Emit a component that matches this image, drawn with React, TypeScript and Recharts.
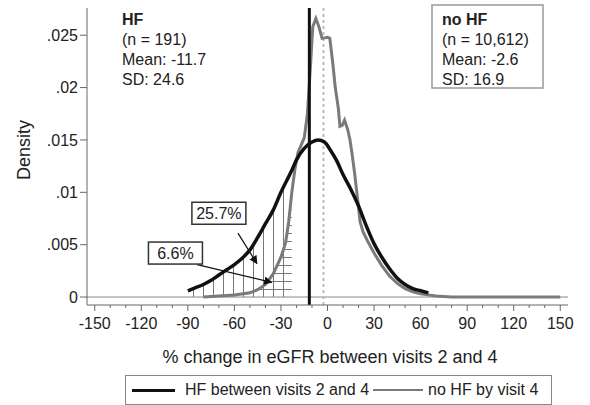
import {
  ComposedChart,
  Line,
  Area,
  XAxis,
  YAxis,
  ReferenceLine,
  ReferenceDot,
  Legend,
} from "recharts";

const FONT = '"Liberation Sans", Arial, sans-serif';

// HF between visits 2 and 4 (kernel density)
const hfX = [-90, -85, -80, -75, -70, -65, -60, -55, -50, -45, -40, -35, -30, -25, -23, -20, -15, -10, -6, -2, 2, 6, 10, 15, 20, 25, 30, 35, 40, 45, 50, 55, 60, 65];
const hfDensity = [0.0006, 0.0009, 0.0012, 0.0016, 0.0021, 0.0026, 0.0031, 0.0037, 0.0045, 0.0057, 0.007, 0.0083, 0.01, 0.0115, 0.0121, 0.0131, 0.0142, 0.0148, 0.015, 0.0148, 0.014, 0.013, 0.0117, 0.0103, 0.0087, 0.0068, 0.0051, 0.0038, 0.0027, 0.0018, 0.0012, 0.0008, 0.0006, 0.0004];

// no HF by visit 4
const noHfX = [-80, -60, -50, -45, -40, -35, -30, -27, -25, -23, -21, -19, -17, -15, -13, -11, -9.5, -7.5, -5.5, -3.5, 0, 1.5, 3.5, 5, 7, 8, 9.5, 11, 13, 14.5, 16, 17.5, 19.5, 21, 23, 26, 30, 35, 40, 45, 50, 55, 60, 70, 80, 150];
const noHfDensity = [0, 0.0002, 0.0004, 0.0007, 0.0012, 0.0022, 0.0038, 0.0052, 0.0072, 0.01, 0.0122, 0.0138, 0.0145, 0.0152, 0.0174, 0.022, 0.0258, 0.0266, 0.0258, 0.0247, 0.0248, 0.0247, 0.0222, 0.02, 0.018, 0.0163, 0.0164, 0.0169, 0.016, 0.015, 0.0135, 0.0118, 0.0092, 0.0072, 0.0062, 0.0053, 0.0042, 0.003, 0.002, 0.0013, 0.0008, 0.0005, 0.0003, 0.0001, 0, 0];

const xTicks = [-150, -140, -130, -120, -110, -100, -90, -80, -70, -60, -50, -40, -30, -20, -10, 0, 10, 20, 30, 40, 50, 60, 70, 80, 90, 100, 110, 120, 130, 140, 150];
const yTicks = [0, 0.005, 0.01, 0.015, 0.02, 0.025];

const hfMean = -11.7;
const noHfMean = -2.6;
const cutoff = -23;

const hfStats = ["HF", "(n = 191)", "Mean: -11.7", "SD: 24.6"];
const noHfStats = ["no HF", "(n = 10,612)", "Mean: -2.6", "SD: 16.9"];

const shareLabels = [
  { text: "25.7%", x: -70, y: 0.008, from: { x: -57.7, y: 0.0061 }, to: { x: -45.5, y: 0.0032 } },
  { text: "6.6%", x: -98, y: 0.0042, from: { x: -84, y: 0.0031 }, to: { x: -36, y: 0.0014 } },
];

const hfData = hfX.map((x, i) => ({ x, hf: hfDensity[i] }));
const noHfData = noHfX.map((x, i) => ({ x, nohf: noHfDensity[i] }));
const hfTail = hfData.filter((d) => d.x <= cutoff);
const noHfTail = noHfData.filter((d) => d.x <= cutoff);

const fmtY = (v: number) => (v === 0 ? "0" : String(v).replace("0.", "."));

function XTick(props: any) {
  const { x, y, payload } = props;
  const major = payload.value % 30 === 0;
  return (
    <g>
      <line x1={x} x2={x} y1={y} y2={y + (major ? 6 : 3)} stroke="#666" />
      {major && (
        <text x={x} y={y + 24} textAnchor="middle" fontSize={16} fontFamily={FONT} fill="#222">
          {payload.value}
        </text>
      )}
    </g>
  );
}

function LegendBox(props: any) {
  const items = (props.payload || []).filter((p: any) => p.type !== "none");
  return (
    <div
      style={{
        border: "1px solid #888",
        height: 30,
        boxSizing: "border-box",
        display: "flex",
        alignItems: "center",
        padding: "0 6px",
        fontFamily: FONT,
        fontSize: 16,
        color: "#222",
        whiteSpace: "nowrap",
      }}
    >
      {items.map((p: any, i: number) => (
        <span key={i} style={{ display: "flex", alignItems: "center" }}>
          <span
            style={{
              display: "inline-block",
              width: i === 0 ? 43 : 50,
              borderTop: `${i === 0 ? 3 : 2}px solid ${p.color}`,
              margin: i === 0 ? "0 10px 0 0" : "0 5px 0 4px",
            }}
          />
          {p.value}
        </span>
      ))}
    </div>
  );
}

function StatBlock({ x, lines, boxed }: { x: number; lines: string[]; boxed?: boolean }) {
  return (
    <g>
      {boxed && <rect x={x - 10} y={5} width={111} height={83} fill="#fff" stroke="#999" strokeWidth={1.5} />}
      {lines.map((t, i) => (
        <text
          key={i}
          x={x}
          y={25 + i * 20}
          fontSize={16}
          fontFamily={FONT}
          fontWeight={i === 0 ? "bold" : "normal"}
          fill="#222"
        >
          {t}
        </text>
      ))}
    </g>
  );
}

export default function App() {
  return (
    <div>
      <style>{`body{margin:0}`}</style>
      <ComposedChart width={590} height={405} margin={{ top: 8, right: 22, left: 0, bottom: 70 }}>
        <defs>
          <pattern id="vhatch" patternUnits="userSpaceOnUse" x={3} y={0} width={10} height={10}>
            <line x1={0.5} x2={0.5} y1={0} y2={10} stroke="#777" strokeWidth={1} />
          </pattern>
          <pattern id="grid" patternUnits="userSpaceOnUse" x={3} y={1} width={10} height={8}>
            <line x1={0.5} x2={0.5} y1={0} y2={8} stroke="#777" strokeWidth={1} />
            <line x1={0} x2={10} y1={0.5} y2={0.5} stroke="#777" strokeWidth={1} />
          </pattern>
          <marker id="arrow" viewBox="0 0 10 10" refX={9} refY={5} markerWidth={7} markerHeight={7} orient="auto">
            <path d="M0,0 L10,5 L0,10 z" fill="#111" />
          </marker>
        </defs>
        <XAxis
          dataKey="x"
          type="number"
          domain={[-155, 155]}
          ticks={xTicks}
          interval={0}
          allowDataOverflow
          stroke="#666"
          tickLine={false}
          tickSize={0}
          tickMargin={0}
          tick={<XTick />}
          height={30}
        />
        <YAxis
          type="number"
          domain={[-0.00076, 0.0276]}
          ticks={yTicks}
          interval={0}
          allowDataOverflow
          stroke="#666"
          tickSize={7}
          tickFormatter={fmtY}
          tick={{ fontSize: 16, fontFamily: FONT, fill: "#222" }}
          width={87}
        />
        <ReferenceLine y={0} stroke="#888" strokeWidth={1} />
        <Area data={hfTail} dataKey="hf" type="monotone" baseValue={0} stroke="none" fill="url(#vhatch)" fillOpacity={1} legendType="none" isAnimationActive={false} />
        <Area data={noHfTail} dataKey="nohf" type="linear" baseValue={0} stroke="none" fill="url(#grid)" fillOpacity={1} legendType="none" isAnimationActive={false} />
        <ReferenceLine x={noHfMean} stroke="#bbb" strokeWidth={2} strokeDasharray="3 3" />
        <Line data={noHfData} dataKey="nohf" name="no HF by visit 4" type="linear" stroke="#7a7a7a" strokeWidth={3} dot={false} isAnimationActive={false} />
        <Line data={hfData} dataKey="hf" name="HF between visits 2 and 4" type="monotone" stroke="#111" strokeWidth={3.5} dot={false} isAnimationActive={false} />
        <ReferenceLine x={hfMean} stroke="#111" strokeWidth={3} />
        {shareLabels.map((s) => (
          <ReferenceLine
            key={s.text + "arrow"}
            segment={[s.from, s.to]}
            stroke="#111"
            strokeWidth={1.2}
            markerEnd="url(#arrow)"
          />
        ))}
        {shareLabels.map((s) => (
          <ReferenceDot
            key={s.text}
            x={s.x}
            y={s.y}
            r={1}
            shape={(p: any) => (
              <g>
                <rect x={p.cx - 27} y={p.cy - 11} width={54} height={22} fill="#fff" stroke="#333" strokeWidth={1.5} />
                <text x={p.cx} y={p.cy + 6} textAnchor="middle" fontSize={16} fontFamily={FONT} fill="#222">
                  {s.text}
                </text>
              </g>
            )}
          />
        ))}
        <StatBlock x={122} lines={hfStats} />
        <StatBlock x={442} lines={noHfStats} boxed />
        <text x={30} y={150} transform="rotate(-90 30 150)" textAnchor="middle" fontSize={18} fontFamily={FONT} fill="#222">
          Density
        </text>
        <text x={330} y={363} textAnchor="middle" fontSize={18} fontFamily={FONT} fill="#222">
          % change in eGFR between visits 2 and 4
        </text>
        <Legend
          layout="horizontal"
          verticalAlign="middle"
          align="center"
          content={<LegendBox />}
          wrapperStyle={{ top: 375, left: 125, width: 427 }}
        />
      </ComposedChart>
    </div>
  );
}
